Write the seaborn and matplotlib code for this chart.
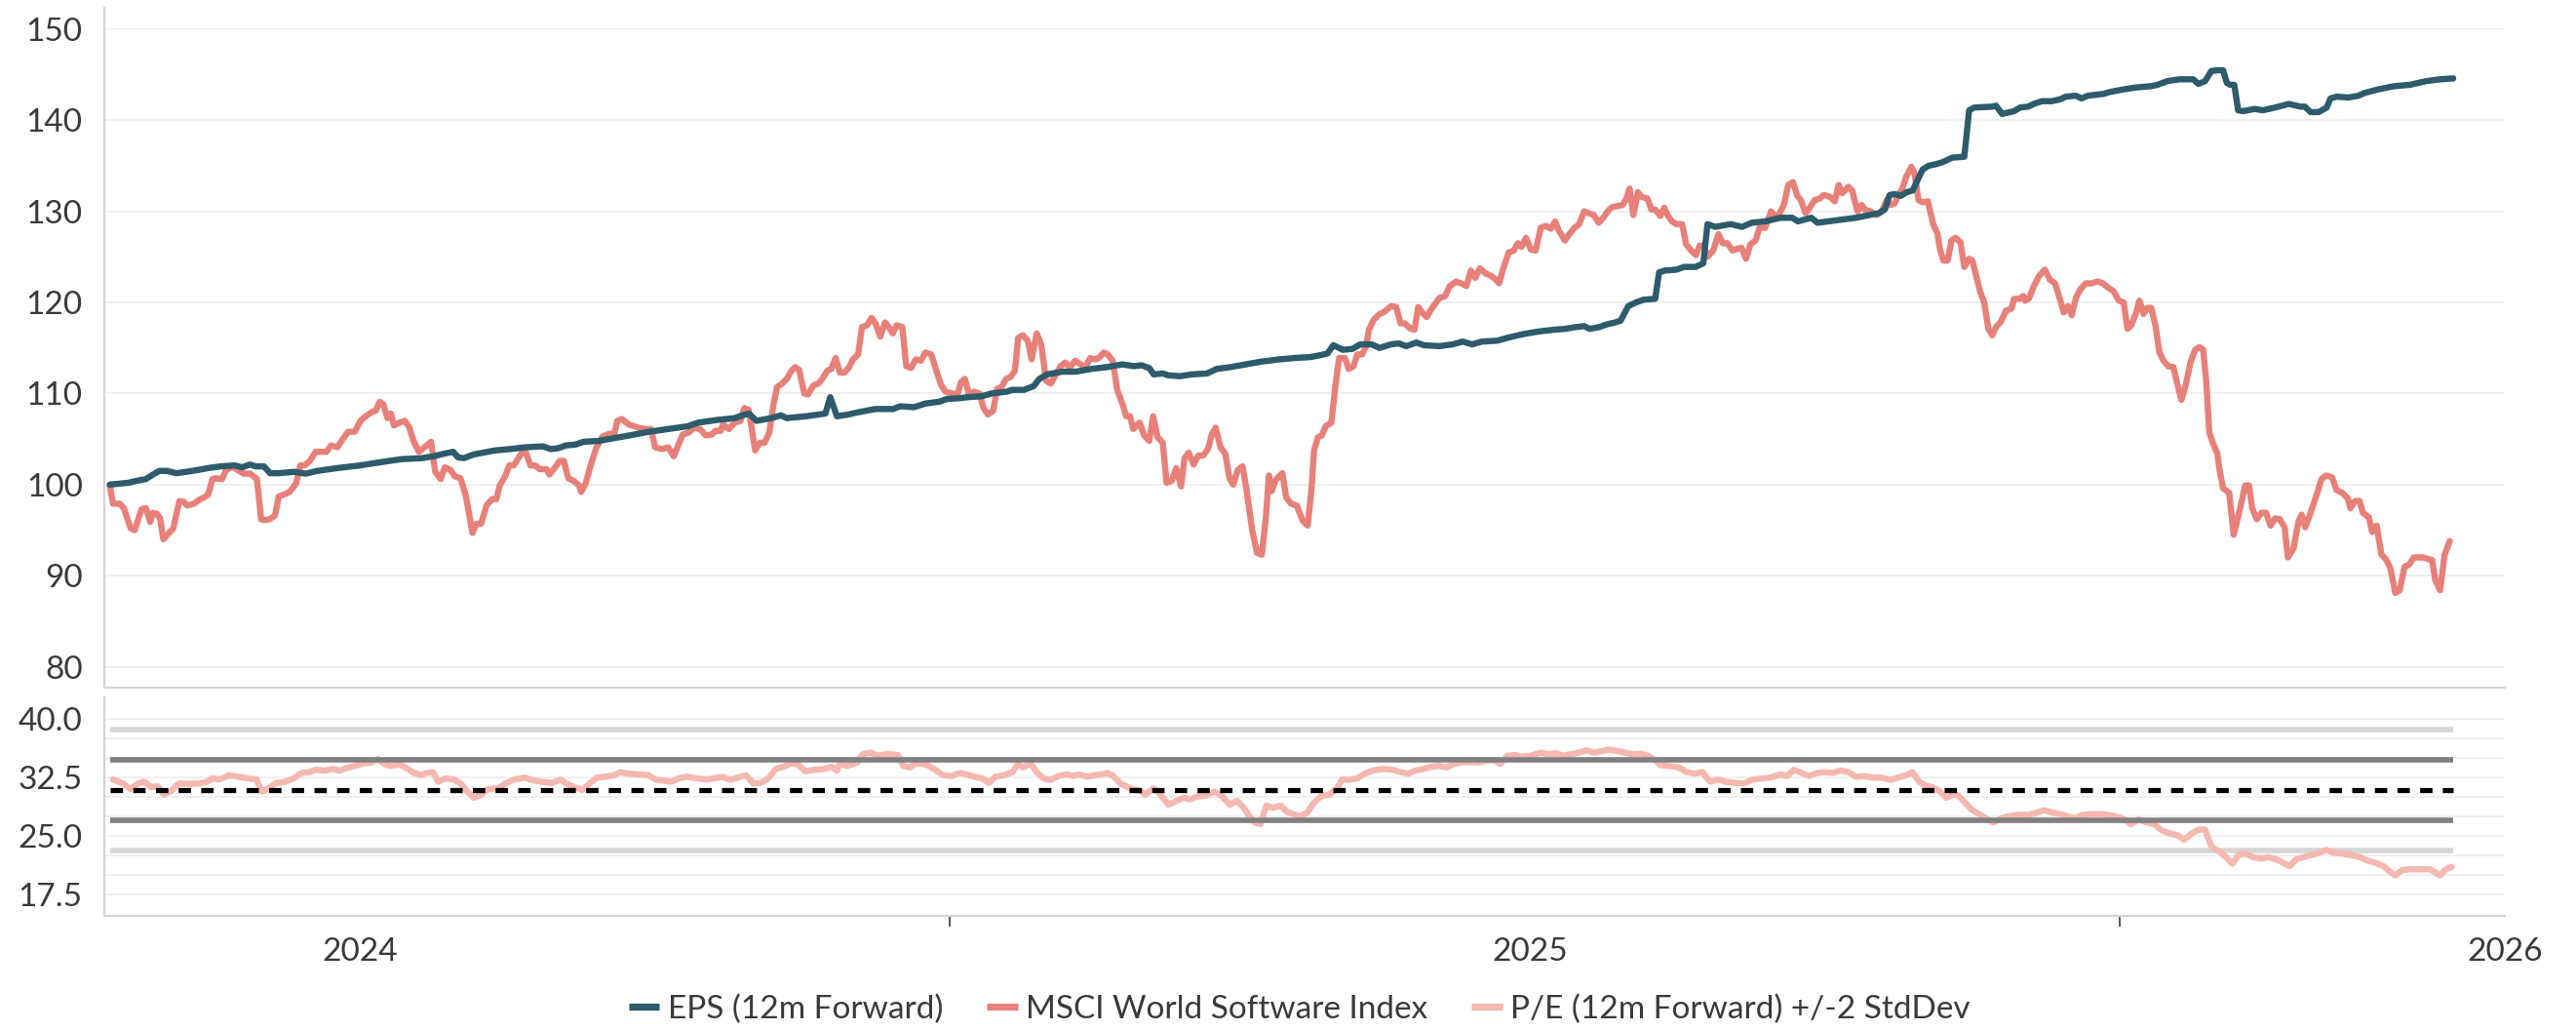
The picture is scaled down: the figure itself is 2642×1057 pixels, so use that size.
#%% Imports
import numpy as np
import pandas as pd
import matplotlib
matplotlib.use("Agg")
import matplotlib.pyplot as plt
import matplotlib.dates as mdates
from matplotlib.lines import Line2D
import seaborn as sns

#%% Daten (Tage seit Startdatum, Wert)

start = pd.Timestamp("2024-04-14")

# EPS (12m Forward), indexiert
eps_pts = [(0, 100.0), (5.8, 100.2), (8.2, 100.4), (11.2, 100.6), (13.0, 101.0), (15.4, 101.5), (17.8, 101.5),
           (20.8, 101.25), (23.8, 101.4), (27.4, 101.6), (30.4, 101.8), (34.6, 102.0), (38.9, 102.1), (41.3, 101.9),
           (43.7, 102.2), (45.5, 102.0), (48.1, 102.0), (50.0, 101.25), (52.7, 101.25), (57.5, 101.4), (61.1, 101.2),
           (64.7, 101.5), (70.7, 101.8), (78.0, 102.1), (85.2, 102.5), (91.2, 102.8), (97.2, 102.9), (100.8, 103.1),
           (104.4, 103.4), (107.1, 103.6), (108.6, 103.0), (110.4, 102.9), (113.4, 103.3), (116.4, 103.5),
           (120.1, 103.75), (124.8, 103.9), (129.7, 104.1), (135.1, 104.2), (137.5, 103.9), (139.9, 104.0),
           (142.3, 104.3), (145.3, 104.4), (147.7, 104.7), (152.5, 104.8), (157.3, 105.1), (162.1, 105.4),
           (168.1, 105.8), (174.2, 106.1), (180.2, 106.4), (183.5, 106.8), (189.5, 107.1), (194.9, 107.3),
           (197.3, 107.6), (199.3, 107.8), (201.7, 107.0), (206.3, 107.3), (209.3, 107.6), (211.1, 107.3),
           (217.1, 107.5), (223.2, 107.8), (224.7, 109.6), (226.8, 107.5), (230.4, 107.7), (232.8, 107.9),
           (238.8, 108.3), (244.2, 108.3), (246.6, 108.6), (250.8, 108.5), (254.4, 108.9), (258.7, 109.1),
           (261.1, 109.4), (265.3, 109.5), (267.7, 109.6), (271.9, 109.7), (274.9, 110.0), (279.7, 110.2),
           (281.5, 110.4), (285.1, 110.4), (288.1, 110.8), (289.9, 111.6), (292.3, 112.1), (297.1, 112.4),
           (301.3, 112.4), (306.1, 112.7), (311.0, 112.9), (315.8, 113.2), (319.4, 113.0), (321.8, 113.1),
           (324.2, 112.8), (325.6, 112.1), (328.4, 112.2), (330.2, 112.0), (333.8, 111.9), (337.4, 112.1),
           (342.2, 112.2), (345.2, 112.7), (349.5, 112.9), (354.3, 113.2), (359.1, 113.5), (364.8, 113.75),
           (369.6, 113.9), (374.4, 114.0), (377.4, 114.2), (379.8, 114.4), (381.6, 115.3), (384.6, 114.8),
           (387.6, 114.9), (390.0, 115.4), (393.6, 115.4), (396.0, 115.0), (399.6, 115.4), (402.0, 115.5),
           (404.4, 115.2), (407.5, 115.6), (409.9, 115.3), (414.7, 115.2), (418.9, 115.4), (421.9, 115.7),
           (424.9, 115.4), (427.9, 115.7), (432.7, 115.8), (435.7, 116.1), (440.5, 116.5), (445.4, 116.8),
           (450.2, 117.0), (453.8, 117.1), (457.4, 117.3), (459.8, 117.4), (461.6, 117.1), (464.6, 117.3),
           (467.0, 117.6), (469.4, 117.8), (471.2, 118.0), (473.6, 119.6), (476.0, 120.0), (478.4, 120.3),
           (482.0, 120.4), (483.2, 123.3), (485.0, 123.5), (488.6, 123.6), (491.0, 123.9), (494.6, 123.9),
           (497.0, 124.3), (498.3, 128.6), (500.7, 128.3), (505.5, 128.6), (509.1, 128.3), (512.1, 128.75),
           (516.3, 128.9), (521.1, 129.3), (524.7, 129.3), (526.5, 128.9), (530.7, 129.3), (532.6, 128.75),
           (538.0, 129.0), (544.6, 129.3), (551.7, 129.8), (553.6, 130.2), (555.1, 131.8), (556.7, 131.9),
           (558.6, 131.7), (560.4, 132.1), (562.3, 132.3), (563.5, 133.2), (565.4, 134.6), (567.2, 135.0),
           (569.7, 135.2), (571.6, 135.4), (573.4, 135.7), (574.7, 135.9), (578.4, 136.0), (579.9, 141.1),
           (581.5, 141.4), (587.1, 141.5), (588.3, 141.6), (590.2, 140.7), (593.9, 141.0), (595.8, 141.4),
           (598.3, 141.5), (600.1, 141.8), (602.6, 142.1), (605.7, 142.1), (608.2, 142.3), (610.1, 142.6),
           (613.2, 142.7), (615.0, 142.4), (616.9, 142.7), (621.8, 142.9), (623.7, 143.1), (628.1, 143.4),
           (631.8, 143.6), (636.7, 143.75), (638.6, 143.9), (641.7, 144.3), (645.4, 144.5), (649.8, 144.5),
           (651.4, 144.0), (653.5, 144.3), (655.4, 145.4), (657.2, 145.5), (659.1, 145.5), (660.3, 144.1),
           (661.3, 143.9), (662.6, 143.9), (663.8, 141.1), (665.3, 141.0), (669.0, 141.25), (671.5, 141.1),
           (675.3, 141.4), (679.6, 141.8), (683.3, 141.5), (684.6, 141.5), (686.4, 140.9), (688.9, 140.9),
           (691.4, 141.4), (692.6, 142.4), (694.5, 142.6), (698.2, 142.5), (701.3, 142.7), (703.2, 143.0),
           (707.5, 143.4), (712.5, 143.75), (717.4, 143.9), (722.4, 144.3), (726.7, 144.5), (730.9, 144.6)]

# MSCI World Software Index, indexiert
msci_pts = [(0, 99.9), (1.0, 97.9), (3.1, 97.9), (4.4, 97.4), (6.5, 95.2), (7.8, 95.0), (9.9, 97.3), (11.3, 97.4),
            (12.6, 95.9), (13.5, 96.9), (14.6, 96.8), (15.7, 96.3), (16.7, 94.0), (18.0, 94.5), (19.8, 95.2),
            (21.7, 98.2), (23.1, 98.1), (24.2, 97.7), (26.2, 97.9), (28.2, 98.4), (29.5, 98.6), (30.7, 98.9),
            (32.0, 100.6), (33.0, 100.7), (35.0, 100.6), (36.3, 101.6), (38.4, 102.0), (39.8, 101.6), (41.8, 101.2),
            (43.8, 101.2), (45.9, 100.6), (47.2, 96.2), (48.3, 96.1), (49.9, 96.2), (51.5, 96.6), (52.7, 98.7),
            (54.3, 98.9), (56.1, 99.2), (58.1, 100.1), (59.4, 102.1), (60.8, 102.1), (62.4, 102.6), (64.2, 103.6),
            (67.6, 103.6), (69.0, 104.3), (71.0, 104.1), (72.3, 104.8), (74.3, 105.8), (76.4, 105.8), (78.2, 107.0),
            (79.8, 107.5), (81.9, 108.0), (82.9, 108.1), (84.2, 109.1), (85.3, 108.8), (86.6, 107.3), (87.7, 107.8),
            (88.6, 106.5), (90.4, 106.8), (92.0, 107.0), (93.4, 106.3), (94.7, 104.8), (96.4, 103.6), (98.5, 104.2),
            (100.2, 104.7), (101.5, 101.4), (103.2, 100.6), (104.5, 101.9), (106.3, 101.6), (107.6, 100.9),
            (109.4, 100.7), (111.1, 98.7), (113.1, 94.7), (114.4, 95.7), (115.8, 95.7), (117.5, 97.7), (119.2, 98.4),
            (120.6, 98.4), (121.6, 99.9), (123.3, 100.9), (124.6, 102.1), (126.0, 102.1), (127.8, 103.1),
            (129.4, 103.9), (131.2, 102.1), (132.7, 102.1), (134.1, 101.7), (136.2, 101.7), (137.1, 101.1),
            (138.9, 101.9), (140.3, 102.6), (141.6, 102.6), (143.0, 100.7), (144.7, 100.4), (146.4, 99.9),
            (147.0, 99.2), (148.4, 100.1), (149.8, 101.9), (151.8, 104.1), (153.8, 105.3), (155.9, 105.6),
            (157.2, 105.3), (158.3, 107.0), (159.7, 107.2), (161.9, 106.6), (165.3, 106.2), (167.4, 106.1),
            (168.8, 106.1), (170.1, 104.1), (172.2, 103.9), (174.2, 104.1), (175.9, 103.1), (177.6, 104.6),
            (178.7, 105.5), (180.5, 105.7), (182.3, 106.25), (184.1, 106.1), (185.9, 105.4), (187.7, 105.5),
            (188.9, 105.9), (190.5, 105.9), (191.3, 106.6), (193.1, 106.1), (194.9, 106.8), (196.7, 107.0),
            (197.9, 108.4), (199.3, 108.2), (201.3, 103.75), (202.7, 104.6), (204.2, 104.6), (205.7, 105.7),
            (206.9, 108.6), (208.1, 110.7), (209.7, 111.1), (211.1, 111.6), (212.6, 112.5), (213.8, 112.9),
            (215.0, 112.6), (216.6, 110.0), (217.7, 109.9), (219.5, 110.9), (221.0, 111.1), (222.2, 111.6),
            (223.8, 112.5), (225.0, 112.7), (226.4, 113.9), (227.7, 112.3), (229.2, 112.3), (230.6, 112.9),
            (231.8, 113.75), (233.4, 114.3), (234.6, 117.3), (236.2, 117.5), (237.6, 118.3), (238.8, 117.7),
            (240.3, 116.25), (241.8, 117.8), (243.0, 117.3), (244.2, 116.6), (245.4, 117.5), (247.2, 117.3),
            (248.4, 113.0), (249.9, 112.8), (251.4, 113.75), (253.0, 113.6), (254.4, 114.5), (256.2, 114.3),
            (257.8, 112.5), (259.3, 110.9), (260.7, 110.2), (262.9, 110.0), (264.3, 109.8), (265.5, 111.25),
            (266.7, 111.6), (267.9, 110.0), (269.5, 110.2), (271.3, 110.0), (272.5, 108.4), (273.9, 107.7),
            (275.5, 108.1), (276.7, 110.5), (278.1, 110.7), (279.5, 111.6), (280.9, 111.8), (282.3, 112.5),
            (283.3, 116.1), (284.8, 116.4), (286.3, 115.8), (287.5, 113.75), (289.1, 116.6), (290.5, 115.4),
            (292.0, 111.4), (293.5, 111.1), (295.1, 112.1), (296.5, 113.0), (298.0, 113.4), (299.5, 112.9),
            (301.1, 113.6), (302.8, 113.2), (304.3, 112.9), (305.8, 113.9), (307.3, 113.75), (308.5, 113.9),
            (310.0, 114.5), (311.2, 114.3), (312.8, 113.6), (314.2, 110.4), (315.8, 108.9), (317.0, 107.5),
            (318.2, 107.5), (319.2, 106.1), (321.2, 106.8), (322.6, 105.4), (324.2, 104.8), (325.4, 107.5),
            (326.8, 105.2), (328.4, 104.6), (329.6, 100.2), (331.2, 100.4), (332.6, 101.8), (334.1, 99.8),
            (335.2, 102.9), (336.5, 103.5), (338.0, 102.2), (339.5, 103.2), (341.0, 103.2), (342.5, 103.9),
            (343.7, 105.5), (344.9, 106.25), (346.4, 104.1), (347.9, 103.4), (349.2, 100.7), (350.4, 100.0),
            (351.8, 101.6), (353.3, 102.0), (354.5, 99.5), (356.3, 95.0), (357.8, 92.5), (359.3, 92.3),
            (360.6, 96.5), (361.5, 101.0), (362.4, 99.3), (363.6, 100.5), (365.7, 101.25), (366.9, 98.6),
            (368.4, 97.9), (370.2, 97.7), (372.1, 96.0), (373.6, 95.5), (374.8, 99.5), (375.6, 103.75),
            (376.8, 105.2), (378.0, 105.4), (379.2, 106.4), (381.0, 106.8), (382.2, 110.7), (383.4, 113.9),
            (385.2, 113.9), (386.4, 112.7), (387.9, 113.0), (389.1, 114.3), (390.6, 114.3), (391.8, 115.2),
            (392.7, 117.0), (394.2, 118.1), (396.1, 118.75), (397.2, 118.9), (399.6, 119.6), (401.2, 119.5),
            (402.6, 117.7), (403.9, 117.7), (405.7, 117.1), (406.9, 117.0), (408.1, 119.5), (409.3, 118.9),
            (410.7, 118.4), (412.6, 119.5), (414.7, 120.5), (416.5, 120.7), (417.9, 121.8), (419.9, 122.3),
            (421.5, 122.1), (423.1, 121.8), (424.5, 123.5), (425.9, 122.7), (427.3, 123.75), (429.1, 123.2),
            (430.9, 122.9), (432.3, 122.5), (433.3, 122.1), (434.5, 123.6), (436.3, 125.5), (437.9, 125.7),
            (439.1, 126.5), (440.3, 126.1), (441.7, 127.1), (443.2, 125.8), (444.7, 125.7), (446.3, 128.2),
            (447.8, 128.4), (449.5, 128.1), (450.8, 128.9), (451.9, 127.9), (453.8, 126.8), (455.2, 127.5),
            (456.8, 128.2), (458.3, 128.6), (459.8, 130.0), (461.2, 129.8), (462.8, 129.6), (464.4, 128.75),
            (465.8, 129.3), (467.6, 130.2), (468.8, 130.5), (470.6, 130.6), (471.8, 130.7), (473.0, 131.4),
            (474.0, 132.5), (475.2, 129.6), (476.6, 132.1), (477.8, 131.6), (479.6, 131.4), (480.8, 130.2),
            (482.0, 130.2), (483.6, 129.5), (484.8, 130.4), (486.0, 129.5), (487.2, 128.9), (488.6, 128.6),
            (490.4, 128.6), (491.6, 126.4), (493.2, 125.7), (494.7, 125.2), (495.9, 126.25), (497.1, 126.25),
            (498.3, 125.0), (500.1, 125.7), (501.7, 127.5), (503.1, 126.5), (504.5, 126.5), (506.1, 125.7),
            (507.6, 125.9), (508.9, 126.0), (510.3, 124.8), (511.7, 126.4), (513.3, 126.8), (514.5, 128.2),
            (516.3, 128.2), (518.1, 130.0), (519.7, 129.4), (520.5, 129.6), (522.1, 130.7), (523.5, 132.9),
            (525.0, 133.2), (526.2, 131.8), (527.4, 131.25), (528.9, 129.8), (530.2, 130.4), (531.7, 131.25),
            (533.2, 131.4), (534.6, 131.8), (536.5, 131.6), (538.0, 131.1), (539.2, 132.9), (540.4, 132.0),
            (542.2, 132.7), (543.4, 132.3), (545.1, 130.0), (546.4, 130.7), (547.4, 130.2), (549.2, 130.0),
            (551.1, 129.6), (552.6, 130.0), (554.2, 131.25), (555.4, 130.7), (556.7, 130.9), (557.9, 131.8),
            (559.1, 132.5), (560.2, 133.75), (561.9, 134.9), (562.9, 134.1), (564.1, 131.25), (565.3, 131.0),
            (567.0, 131.1), (567.9, 129.8), (568.7, 128.6), (570.0, 127.6), (570.9, 125.7), (571.9, 124.6),
            (573.2, 124.6), (574.4, 126.8), (575.7, 127.1), (577.2, 126.6), (578.4, 123.9), (579.9, 124.8),
            (580.9, 124.6), (582.1, 122.9), (583.4, 121.1), (584.6, 120.0), (585.9, 117.1), (587.1, 116.4),
            (588.3, 117.3), (589.8, 117.9), (591.4, 119.1), (593.1, 119.3), (593.9, 120.4), (595.5, 120.4),
            (596.8, 120.7), (597.3, 120.2), (598.5, 120.4), (600.1, 121.8), (601.7, 122.9), (603.5, 123.6),
            (605.1, 122.5), (606.7, 122.1), (608.2, 120.4), (609.4, 118.9), (610.7, 119.6), (611.9, 118.6),
            (613.2, 120.5), (614.7, 121.5), (616.3, 122.1), (618.1, 122.1), (620.0, 122.3), (621.6, 122.1),
            (623.3, 121.6), (624.9, 121.25), (626.6, 120.2), (628.1, 120.0), (629.3, 117.1), (630.5, 117.5),
            (632.0, 118.9), (633.0, 120.2), (634.3, 118.75), (635.5, 119.4), (636.7, 119.4), (638.0, 117.5),
            (639.2, 114.6), (640.5, 113.6), (642.0, 113.0), (643.6, 112.9), (644.8, 111.1), (646.1, 109.3),
            (647.3, 110.7), (648.9, 113.4), (650.4, 114.8), (651.7, 115.1), (652.9, 114.8), (653.9, 111.1),
            (654.8, 105.7), (656.0, 104.5), (657.3, 103.4), (658.1, 101.4), (659.1, 99.6), (661.0, 99.1),
            (662.4, 94.5), (664.3, 97.2), (666.0, 99.9), (667.2, 99.9), (668.2, 97.4), (669.6, 96.2),
            (671.1, 96.9), (672.5, 96.9), (673.9, 95.5), (675.4, 96.3), (676.8, 96.2), (678.3, 95.3),
            (679.3, 92.0), (681.1, 93.0), (682.6, 95.9), (683.6, 96.7), (684.7, 95.3), (686.2, 96.7),
            (688.3, 98.9), (689.8, 100.6), (691.2, 101.0), (693.1, 100.8), (694.5, 99.4), (696.2, 99.1),
            (698.0, 98.5), (698.8, 97.4), (700.3, 98.2), (701.7, 98.2), (702.7, 96.9), (704.6, 96.4),
            (705.6, 94.8), (707.0, 95.5), (708.5, 92.3), (709.9, 91.8), (711.3, 90.8), (712.8, 88.1),
            (714.2, 88.4), (715.7, 91.0), (717.1, 91.2), (718.6, 92.0), (721.4, 92.0), (724.3, 91.7),
            (725.3, 89.5), (726.8, 88.4), (728.2, 92.3), (729.8, 93.8)]

# P/E (12m Forward)
pe_pts = [(1.0, 32.25), (4.1, 31.75), (6.5, 31.0), (8.9, 31.75), (10.8, 31.96), (12.9, 31.25), (14.9, 31.4),
          (16.9, 30.3), (19.2, 30.8), (21.6, 31.75), (24.0, 31.67), (28.0, 31.75), (30.4, 31.96), (32.0, 32.4),
          (34.3, 32.25), (37.2, 32.8), (39.9, 32.6), (43.1, 32.4), (45.8, 32.25), (47.4, 30.7), (49.5, 31.1),
          (51.8, 31.8), (54.7, 31.96), (57.4, 32.4), (59.8, 33.1), (62.2, 33.2), (64.2, 33.5), (66.9, 33.4),
          (69.7, 33.6), (71.7, 33.4), (74.1, 33.75), (76.5, 34.0), (78.9, 34.3), (81.8, 34.45), (83.7, 34.9),
          (85.6, 34.25), (87.6, 34.0), (90.3, 34.2), (92.4, 33.75), (94.8, 33.1), (97.2, 32.8), (98.8, 33.1),
          (100.8, 33.2), (102.4, 31.96), (104.7, 32.4), (107.5, 32.2), (109.4, 31.75), (111.5, 30.7),
          (113.6, 29.9), (115.8, 30.3), (117.9, 31.0), (121.1, 31.1), (123.4, 31.75), (125.8, 32.2),
          (129.5, 32.5), (131.4, 32.2), (134.6, 31.96), (137.8, 31.8), (140.6, 32.25), (142.2, 31.75),
          (144.9, 31.25), (147.3, 30.9), (149.7, 31.75), (152.0, 32.5), (154.5, 32.6), (157.2, 32.8),
          (159.2, 33.2), (161.6, 33.0), (164.8, 32.9), (168.0, 32.8), (170.4, 32.2), (172.7, 32.1),
          (175.1, 31.96), (177.5, 32.4), (179.9, 32.6), (183.1, 32.4), (186.3, 32.25), (188.6, 32.4),
          (191.0, 32.6), (193.4, 32.2), (195.8, 32.5), (198.5, 32.8), (200.6, 31.75), (203.0, 31.8),
          (205.4, 32.4), (207.7, 33.6), (210.1, 33.9), (212.5, 34.3), (214.4, 34.25), (217.0, 33.3),
          (219.7, 33.5), (222.9, 33.6), (225.2, 33.9), (226.8, 33.4), (227.6, 34.25), (230.0, 34.0),
          (233.2, 34.45), (234.8, 35.5), (237.2, 35.7), (239.6, 35.3), (241.9, 35.5), (243.5, 35.5),
          (245.8, 35.4), (247.4, 34.0), (249.4, 33.8), (251.4, 34.3), (253.8, 34.25), (255.4, 34.0),
          (257.8, 33.4), (259.8, 32.8), (262.6, 32.7), (265.0, 33.1), (267.3, 32.9), (269.7, 32.6),
          (272.1, 32.4), (274.2, 31.8), (276.1, 32.6), (278.9, 32.8), (281.6, 33.2), (283.2, 34.25),
          (284.8, 33.8), (287.2, 34.3), (289.1, 33.2), (291.2, 32.4), (293.3, 32.2), (296.0, 32.7),
          (298.4, 32.9), (300.7, 32.7), (302.3, 32.9), (304.7, 32.6), (307.1, 32.8), (309.5, 32.9),
          (311.1, 33.1), (313.0, 32.7), (315.1, 31.75), (317.4, 31.3), (319.0, 31.0), (321.4, 30.8),
          (323.0, 30.3), (325.4, 31.1), (327.3, 30.5), (330.2, 29.0), (332.6, 29.5), (334.9, 29.9),
          (336.9, 29.7), (339.4, 30.1), (342.1, 30.2), (344.5, 30.7), (346.9, 30.1), (349.3, 29.0),
          (351.6, 29.5), (353.7, 28.6), (355.6, 27.4), (357.2, 26.7), (358.8, 26.5), (360.7, 28.9),
          (362.8, 28.6), (365.2, 28.9), (367.1, 28.1), (369.2, 27.8), (371.2, 27.5), (373.5, 28.0),
          (375.5, 29.25), (377.9, 30.1), (380.3, 30.3), (382.7, 31.1), (384.3, 32.25), (386.6, 32.2),
          (389.0, 32.4), (391.4, 33.0), (393.8, 33.4), (397.0, 33.6), (400.2, 33.5), (402.6, 33.2),
          (404.9, 33.0), (407.3, 33.4), (409.7, 33.6), (412.1, 33.9), (414.5, 34.0), (416.9, 33.8),
          (419.3, 34.25), (422.1, 34.45), (424.8, 34.5), (427.2, 34.45), (429.6, 34.7), (432.0, 34.7),
          (433.6, 34.25), (436.0, 35.3), (438.3, 35.4), (440.2, 35.2), (443.1, 35.3), (446.3, 35.7),
          (448.7, 35.5), (451.1, 35.6), (453.4, 35.3), (455.8, 35.5), (458.2, 35.7), (460.6, 36.0),
          (463.0, 35.7), (465.4, 35.9), (467.8, 36.1), (470.2, 35.9), (472.6, 35.7), (475.0, 35.5),
          (477.3, 35.6), (479.7, 35.3), (482.1, 34.75), (483.7, 34.1), (486.1, 34.0), (489.4, 33.8),
          (491.8, 33.2), (494.3, 33.0), (496.7, 33.2), (499.1, 31.96), (501.6, 32.25), (504.0, 31.96),
          (507.2, 31.8), (509.7, 31.75), (512.1, 32.2), (515.4, 32.4), (517.9, 32.5), (521.1, 32.9),
          (523.2, 32.7), (525.2, 33.5), (527.6, 33.1), (530.0, 32.7), (532.5, 33.1), (534.9, 33.2),
          (537.4, 33.1), (539.8, 33.4), (542.3, 33.2), (544.7, 32.6), (547.2, 32.7), (549.6, 32.5),
          (552.5, 32.5), (555.3, 32.2), (557.8, 32.5), (560.2, 32.8), (562.2, 33.2), (564.3, 31.96),
          (566.2, 31.5), (568.4, 31.25), (570.5, 30.8), (572.8, 29.9), (574.9, 30.3), (576.5, 30.2),
          (578.6, 29.3), (580.6, 28.4), (583.0, 27.8), (585.4, 27.2), (587.4, 26.7), (589.5, 27.2),
          (592.0, 27.5), (595.2, 27.7), (598.5, 27.7), (600.9, 28.0), (603.4, 28.3), (605.8, 28.0),
          (608.3, 27.8), (610.7, 27.5), (613.2, 27.25), (615.1, 27.7), (618.1, 27.8), (621.3, 27.8),
          (624.6, 27.6), (627.8, 27.25), (630.3, 26.5), (632.7, 27.1), (635.1, 26.75), (637.6, 26.5),
          (640.0, 25.7), (642.5, 25.3), (644.9, 25.1), (647.0, 24.5), (649.0, 25.2), (651.4, 25.8),
          (653.5, 25.8), (655.5, 23.6), (657.9, 23.0), (660.1, 22.25), (662.0, 21.4), (664.0, 22.6),
          (666.1, 22.7), (668.5, 22.25), (671.0, 22.1), (673.4, 22.25), (675.9, 21.96), (678.0, 21.5),
          (679.9, 21.1), (681.9, 21.96), (684.0, 22.25), (686.4, 22.5), (688.9, 22.8), (691.3, 23.2),
          (693.7, 22.8), (696.5, 22.7), (699.5, 22.5), (701.9, 22.25), (704.3, 21.8), (706.8, 21.5),
          (709.2, 21.1), (710.8, 20.5), (712.8, 19.9), (715.0, 20.6), (717.4, 20.7), (720.7, 20.7),
          (723.6, 20.7), (725.2, 20.3), (726.8, 19.9), (728.5, 20.7), (730.4, 21.0)]

# Mittelwert und Standardabweichung des P/E
pe_mean = 30.85
pe_std = 3.9
pe_span = (0, 730.9)

legend_labels = ["EPS (12m Forward)", "MSCI World Software Index", "P/E (12m Forward) +/-2 StdDev"]
year_labels = ["2024", "2025", "2026"]
year_label_dates = ["2024-07-01", "2025-07-01", "2026-05-01"]
year_starts = ["2025-01-01", "2026-01-01"]
top_ticks = [80, 90, 100, 110, 120, 130, 140, 150]
pe_ticks = [17.5, 20.0, 22.5, 25.0, 27.5, 30.0, 32.5, 35.0, 37.5, 40.0]
pe_tick_labels = ["17.5", "", "", "25.0", "", "", "32.5", "", "", "40.0"]

#%% Hilfsfunktionen

def to_frame(pts):
    d = pd.DataFrame(pts, columns=["day", "value"])
    d["date"] = start + pd.to_timedelta(d["day"], unit="D")
    return d

def style_axis(ax):
    for s in ["top", "right"]:
        ax.spines[s].set_visible(False)
    for s in ["left", "bottom"]:
        ax.spines[s].set_color("#d4d4d4")
        ax.spines[s].set_linewidth(0.8)
    ax.grid(axis="y", color="#eeeeee", linewidth=0.6)
    ax.grid(axis="x", visible=False)
    ax.set_axisbelow(True)
    ax.tick_params(axis="y", length=4, width=0.7, color="#d4d4d4", labelsize=12,
                   labelcolor="#3a3a3a", pad=4)
    ax.set_xlabel("")
    ax.set_ylabel("")

#%% Plot

sns.set_theme(style="white")
plt.rcParams["font.family"] = ["Lato", "DejaVu Sans"]

c_eps = "#2d5b6b"
c_msci = "#e8807a"
c_pe = "#f4b8b0"
c_sd1 = "#808080"
c_sd2 = "#d6d6d6"

eps = to_frame(eps_pts)
msci = to_frame(msci_pts)
pe = to_frame(pe_pts)

fig = plt.figure(figsize=(13.21, 5.285), dpi=200)
ax1 = fig.add_axes([0.0405, 0.3330, 0.9319, 0.6594])
ax2 = fig.add_axes([0.0405, 0.1116, 0.9319, 0.2119])

xlim = (start - pd.Timedelta(days=1.7), pd.Timestamp("2026-05-01"))

# oberes Panel
sns.lineplot(data=msci, x="date", y="value", ax=ax1, color=c_msci, linewidth=2.3,
             estimator=None, sort=False, zorder=3)
sns.lineplot(data=eps, x="date", y="value", ax=ax1, color=c_eps, linewidth=2.3,
             estimator=None, sort=False, zorder=4)
ax1.set_xlim(*xlim)
ax1.set_ylim(77.7, 152.35)
ax1.set_yticks(top_ticks)
style_axis(ax1)
ax1.tick_params(axis="x", which="both", bottom=False, labelbottom=False)

# unteres Panel: P/E mit +/- 1 und 2 StdDev
d0 = start + pd.Timedelta(days=pe_span[0])
d1 = start + pd.Timedelta(days=pe_span[1])
for k, col, z in [(2, c_sd2, 2), (1, c_sd1, 4)]:
    for sgn in [-1, 1]:
        lvl = pe_mean + sgn * k * pe_std
        ax2.plot([d0, d1], [lvl, lvl], color=col, linewidth=2.0, solid_capstyle="butt", zorder=z)
sns.lineplot(data=pe, x="date", y="value", ax=ax2, color=c_pe, linewidth=2.3,
             estimator=None, sort=False, zorder=3)
ax2.plot([d0, d1], [pe_mean, pe_mean], color="black", linewidth=1.9, dashes=(2.4, 2.0), zorder=5)

ax2.set_xlim(*xlim)
ax2.set_ylim(14.7, 42.8)
ax2.set_yticks(pe_ticks)
ax2.set_yticklabels(pe_tick_labels)
style_axis(ax2)

ax2.set_xticks([mdates.date2num(pd.Timestamp(d)) for d in year_label_dates])
ax2.set_xticklabels(year_labels)
ax2.set_xticks([mdates.date2num(pd.Timestamp(d)) for d in year_starts], minor=True)
ax2.tick_params(axis="x", which="major", length=0, labelsize=12, labelcolor="#3a3a3a", pad=8)
ax2.tick_params(axis="x", which="minor", length=4, width=0.7, color="#555555", bottom=True)

# Legende
handles = [Line2D([0], [0], color=c, linewidth=2.6, solid_capstyle="butt") for c in [c_eps, c_msci, c_pe]]
leg = fig.legend(handles, legend_labels, loc="center", bbox_to_anchor=(0.5045, 0.021), ncol=3,
                 frameon=False, handlelength=0.95, handletextpad=0.25, columnspacing=1.35, fontsize=12)
for t in leg.get_texts():
    t.set_color("#3a3a3a")

fig.savefig("out.png", dpi=200)
